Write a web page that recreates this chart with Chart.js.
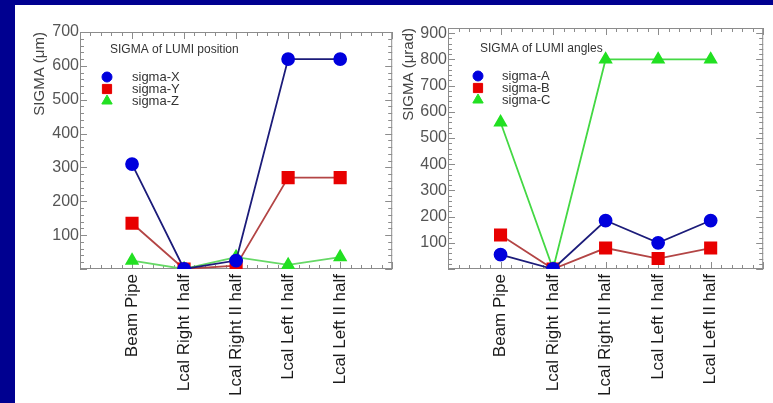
<!DOCTYPE html>
<html>
<head>
<meta charset="utf-8">
<script src="https://cdn.jsdelivr.net/npm/chart.js@4.4.1/dist/chart.umd.min.js"></script>
<style>
  html, body { margin: 0; padding: 0; background: #000090; }
  body { width: 773px; height: 403px; overflow: hidden; position: relative; }
  #panel { position: absolute; left: 15px; top: 5px; width: 758px; height: 398px; background: #fff; overflow: hidden; }
  #posCanvas { position: absolute; left: 0; top: 0; }
  #angCanvas { position: absolute; left: 380px; top: 0; }
</style>
</head>
<body>
<div id="panel">
  <canvas id="posCanvas" width="387" height="398"></canvas>
  <canvas id="angCanvas" width="378" height="398"></canvas>
</div>
<script>
// Data
const categories = ['Beam Pipe', 'Lcal Right I half', 'Lcal Right II half', 'Lcal Left I half', 'Lcal Left II half'];

const sigmaX = [310, 0, 25, 620, 620];
const sigmaY = [135, 0, 10, 270, 270];
const sigmaZ = [25, 0, 35, 12, 35];

const sigmaA = [55, 0, 185, 100, 185];
const sigmaB = [130, 0, 80, 40, 80];
const sigmaC = [560, 0, 800, 800, 800];

const posTicks = [100, 200, 300, 400, 500, 600, 700];
const angTicks = [100, 200, 300, 400, 500, 600, 700, 800, 900];

const FONT = '"Liberation Sans", Arial, Helvetica, sans-serif';

// Frame with inward IDL-style ticks
const frameTicks = {
  id: 'frameTicks',
  beforeDatasetsDraw(chart, args, opts) {
    const { ctx, chartArea: a, scales: { x, y } } = chart;
    ctx.save();
    ctx.strokeStyle = '#8c8c8c';
    ctx.lineWidth = 1;
    ctx.strokeRect(a.left + 0.5, a.top + 0.5, a.right - a.left - 1, a.bottom - a.top - 1);
    ctx.beginPath();
    for (let v = y.min; v <= y.max + 0.001; v += opts.yMinor) {
      const py = Math.round(y.getPixelForValue(v)) + 0.5;
      const major = Math.abs(v / opts.yMajor - Math.round(v / opts.yMajor)) < 1e-6;
      const len = major ? 7 : 4;
      ctx.moveTo(a.left, py); ctx.lineTo(a.left + len, py);
      ctx.moveTo(a.right, py); ctx.lineTo(a.right - len, py);
    }
    for (let v = x.min; v <= x.max + 0.001; v += 0.2) {
      const px = Math.round(x.getPixelForValue(v)) + 0.5;
      const major = Math.abs(v - Math.round(v)) < 1e-6;
      const len = major ? 7 : 4;
      ctx.moveTo(px, a.bottom); ctx.lineTo(px, a.bottom - len);
      ctx.moveTo(px, a.top); ctx.lineTo(px, a.top + len);
    }
    ctx.stroke();
    ctx.restore();
  }
};

// Legend drawn inside the plot box
const insideLegend = {
  id: 'insideLegend',
  afterDatasetsDraw(chart, args, opts) {
    const { ctx, chartArea: a } = chart;
    ctx.save();
    ctx.fillStyle = '#333';
    ctx.textBaseline = 'middle';
    ctx.font = '12px ' + FONT;
    ctx.fillText(opts.title, a.left + opts.titleX, a.top + opts.dy + 18);
    chart.data.datasets.forEach((ds, i) => {
      const yy = a.top + opts.dy + 45 + i * 12;
      ctx.fillStyle = ds.pointBackgroundColor;
      ctx.strokeStyle = ds.pointBackgroundColor;
      Chart.helpers.drawPoint(ctx, { pointStyle: ds.pointStyle, radius: [5, 6.5, 6][i], borderWidth: 1, rotation: 0 }, a.left + opts.markX, yy);
      ctx.fillStyle = '#333';
      ctx.font = '13px ' + FONT;
      ctx.fillText(ds.label, a.left + opts.textX, yy);
    });
    ctx.restore();
  }
};

function makeDataset(label, values, style, pointColor, lineColor, radius) {
  return {
    label: label,
    data: values.map((v, i) => ({ x: i + 1, y: v })),
    pointStyle: style,
    pointRadius: radius,
    pointBackgroundColor: pointColor,
    pointBorderColor: pointColor,
    borderColor: lineColor,
    borderWidth: 1.8,
    tension: 0
  };
}

function makeChart(canvasId, cfg) {
  return new Chart(document.getElementById(canvasId), {
    type: 'line',
    data: { datasets: cfg.datasets },
    options: {
      responsive: false,
      animation: false,
      layout: { padding: { top: cfg.padTop, right: cfg.padRight, left: 0, bottom: 0 } },
      plugins: {
        legend: { display: false },
        tooltip: { enabled: false },
        frameTicks: { yMajor: 100, yMinor: 20 },
        insideLegend: cfg.legend
      },
      scales: {
        x: {
          type: 'linear',
          min: 0,
          max: 6,
          grid: { display: false, drawTicks: false },
          border: { display: false },
          afterFit: (s) => {
            s.height = 134;
            s.paddingLeft = 0;
            s.paddingRight = 0;
          },
          ticks: {
            stepSize: 1,
            minRotation: 90,
            maxRotation: 90,
            autoSkip: false,
            padding: 5,
            color: '#1a1a1a',
            font: { family: FONT, size: 17 },
            callback: (v) => categories[v - 1] || ''
          }
        },
        y: {
          min: 0,
          max: cfg.yMax,
          grid: { display: false, drawTicks: false },
          border: { display: false },
          afterBuildTicks: (s) => {
            s.ticks = cfg.yTicks.map(v => ({ value: v }));
          },
          afterFit: (s) => {
            s.width = cfg.yWidth;
            s.paddingTop = 0;
            s.paddingBottom = 0;
          },
          title: {
            display: true,
            text: cfg.yTitle,
            align: 'end',
            color: '#444',
            padding: { top: cfg.titlePad, bottom: 0 },
            font: { family: FONT, size: 15 }
          },
          ticks: {
            padding: 1,
            color: '#555',
            font: { family: FONT, size: 16 }
          }
        }
      }
    },
    plugins: [frameTicks, insideLegend]
  });
}

// Position chart
makeChart('posCanvas', {
  yMax: 700,
  yTicks: posTicks,
  yWidth: 65,
  padTop: 27,
  padRight: 2,
  titlePad: 16,
  yTitle: 'SIGMA (μm)',
  legend: { title: 'SIGMA of LUMI position', titleX: 30, markX: 27, textX: 52, dy: 0 },
  datasets: [
    makeDataset('sigma-X', sigmaX, 'circle', '#0000dd', '#1c1c7a', 6),
    makeDataset('sigma-Y', sigmaY, 'rect', '#e80000', '#b34545', 8),
    makeDataset('sigma-Z', sigmaZ, 'triangle', '#22e022', '#66d866', 6.5)
  ]
});

// Angles chart
makeChart('angCanvas', {
  yMax: 920,
  yTicks: angTicks,
  yWidth: 53,
  padTop: 23,
  padRight: 1,
  titlePad: 5,
  yTitle: 'SIGMA (μrad)',
  legend: { title: 'SIGMA of LUMI angles', titleX: 32, markX: 30, textX: 54, dy: 3 },
  datasets: [
    makeDataset('sigma-A', sigmaA, 'circle', '#0000dd', '#1c1c7a', 6),
    makeDataset('sigma-B', sigmaB, 'rect', '#e80000', '#b34545', 8),
    makeDataset('sigma-C', sigmaC, 'triangle', '#22e022', '#44d844', 6.5)
  ]
});
</script>
</body>
</html>
